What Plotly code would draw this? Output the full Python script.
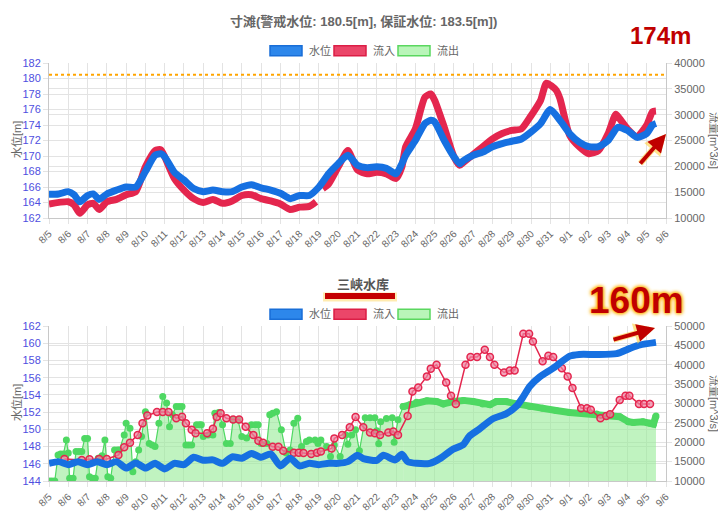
import plotly.graph_objects as go

# ---------------- data ----------------
day_labels = ["8/5","8/6","8/7","8/8","8/9","8/10","8/11","8/12","8/13","8/14","8/15","8/16",
              "8/17","8/18","8/19","8/20","8/21","8/22","8/23","8/24","8/25","8/26","8/27","8/28",
              "8/29","8/30","8/31","9/1","9/2","9/3","9/4","9/5","9/6"]
day_pos = list(range(len(day_labels)))

# 寸滩 water level [m]  (x in days since 8/5)
cuntan_level_t = [0,0.5,1,1.3,1.6,2,2.3,2.6,3,3.5,4,4.5,5,5.5,5.8,6,6.5,7,7.5,8,8.5,9,9.5,10,10.5,11,
                  11.5,12,12.5,13,13.5,14,14.5,15,15.5,16,16.5,17,17.5,18,18.3,18.5,19,19.5,19.8,20,
                  20.5,21,21.3,21.5,22,22.5,23,23.5,24,24.5,25,25.5,26,26.5,27,27.5,28,28.5,29,29.5,
                  30,30.5,31,31.3,31.48]
cuntan_level = [165.05,165.1,165.4,165.0,164.1,164.9,165.1,164.4,165.1,165.6,166.0,166.0,168.0,170.1,
                170.3,169.9,167.9,166.9,165.8,165.4,165.6,165.4,165.4,166.0,166.3,165.9,165.6,165.2,
                164.5,164.9,164.9,166.0,167.7,169.0,170.1,168.8,168.5,168.6,168.4,167.7,169.0,170.1,
                172.0,174.2,174.6,174.4,172.0,169.9,169.0,169.4,170.1,170.5,171.2,171.6,171.9,172.2,
                173.1,174.2,176.0,174.6,172.9,171.8,171.2,171.2,172.0,173.7,173.3,172.4,172.9,174.0,174.2]

# 寸滩 inflow [m^3/s]
cuntan_in_t = [0,1,1.3,1.6,2,2.3,2.6,3,3.5,4,4.5,5,5.5,5.8,6,6.5,7,7.5,8,8.5,9,9.5,10,10.5,11,11.5,
               12,12.5,13,13.5,13.85,14.0,14.2,14.5,15,15.5,16,16.5,17,17.5,18,18.3,18.5,19,19.5,19.8,
               20,20.5,21,21.3,21.5,22,22.5,23,23.5,24,24.5,25,25.5,25.8,26.3,26.5,27,27.5,28,28.5,29,
               29.4,29.6,30,30.5,31,31.3,31.48]
cuntan_in = [12700,13150,12550,10900,12550,12850,11650,13150,13600,14500,15100,19900,23050,23200,
             21850,17650,15400,13750,13000,13600,12850,13300,14350,14500,13750,13300,12700,11650,
             12100,12250,13150,None,15700,16600,19900,23050,19300,18550,18850,18550,17650,19900,
             23800,27250,33400,34000,32800,27550,21850,20200,20800,22300,23800,25300,26350,26950,
             27250,29800,32800,36100,34750,33100,26050,23800,22450,23050,26350,30100,29200,27250,
             25750,28000,30550,30700]

# 三峡水库 water level [m]
sanxia_level_t = [0,0.5,1,1.5,2,2.5,3,3.5,4,4.5,5,5.5,6,6.5,7,7.5,8,8.5,9,9.5,10,10.5,11,11.5,12,
                  12.5,13,13.5,14,14.5,15,15.5,16,16.3,17.0,17.35,17.95,18.3,18.6,19.06,19.75,20.27,
                  20.96,21.48,21.8,22.3,23.0,23.7,24.25,24.6,24.94,25.46,26.15,27.0,27.5,28.4,29.44,
                  30.13,30.65,31.48]
sanxia_level = [146.05,146.25,145.9,146.25,145.9,146.25,145.9,146.25,145.5,146.1,145.5,146.05,145.4,
                146.05,145.9,146.75,146.4,146.45,146.05,146.8,146.65,147.2,146.75,147.15,145.75,
                146.65,145.75,146.05,145.9,146.05,146.05,146.25,147.0,146.6,146.4,147.0,146.45,147.1,
                146.25,146.05,146.05,146.6,147.7,148.2,149.2,150.0,151.2,151.8,152.7,153.8,155.0,
                156.1,157.1,158.5,158.7,158.7,158.8,159.4,159.8,160.1]

# 三峡水库 inflow [m^3/s]
sanxia_in_t = [0.8,1.7,2.1,2.6,3.0,3.6,3.9,4.2,4.6,4.85,5.1,5.6,5.9,6.2,6.6,6.9,7.1,7.4,7.6,8.2,8.5,
               8.7,8.9,9.2,9.55,9.86,10.2,10.6,10.86,11.1,11.6,11.9,12.15,12.7,12.95,13.2,13.6,13.9,
               14.1,14.66,14.8,15.2,15.6,15.9,16.3,16.65,16.9,17.17,17.6,17.86,18.1,18.6,18.85,19.15,
               19.6,19.8,20.1,20.6,20.85,21.1,21.6,21.86,22.2,22.6,22.87,23.1,23.6,23.9,24.15,24.6,
               24.9,25.1,25.6,25.9,26.15,26.6,26.9,27.15,27.6,27.9,28.1,28.6,28.9,29.1,29.6,29.9,
               30.1,30.6,30.86,31.17]
sanxia_in = [15700,15400,15600,15700,15700,16700,18700,19900,21900,24900,26900,27800,27800,27800,
             26200,26600,24900,23200,22300,22300,23500,26500,27500,26200,25900,25900,24000,21900,
             20400,19900,18850,18850,17800,17300,17300,17200,17000,17300,17600,18400,21000,21900,
             23900,26500,23900,22500,22300,21900,22500,22800,21900,26800,33100,34100,37000,39000,
             40000,35400,32000,29900,40000,42000,42000,43900,42000,40000,38000,38500,38500,48000,
             48000,46000,40900,42300,42000,39100,37000,34000,28800,28800,28400,26200,26800,27200,
             30900,32000,32000,29900,29900,29900]

# 三峡水库 outflow [m^3/s] (fluctuating part)
sanxia_out1_t = [0,0.15,0.3,0.47,0.6,0.75,0.9,1.0,1.07,1.25,1.4,1.55,1.7,1.85,2.0,2.1,2.25,2.4,2.55,
                 2.75,2.9,3.05,3.2,3.4,3.55,3.65,3.9,4.0,4.2,4.35,4.5,4.65,4.8,5.0,5.2,5.35,5.5,5.7,
                 5.9,6.1,6.25,6.4,6.6,6.75,6.9,7.1,7.25,7.4,7.65,7.8,7.9,8.0,8.25,8.5,8.6,8.8,9.0,
                 9.2,9.4,9.55,9.8,10.0,10.25,10.5,10.7,10.85,11.0,11.3,11.45,11.6,11.8,12.05,12.3,
                 12.5,12.7,12.9,13.1,13.35,13.5,13.8,13.95,14.1,14.4,14.6,14.8,15.1,15.4,15.5,15.7,
                 15.9,16.1,16.4,16.65,16.9,17.0,17.1,17.2,17.5,17.8,17.9,18.1,18.37]
sanxia_out1 = [10000,10000,10000,16700,17000,17000,20600,17200,10700,10700,17600,17600,17600,21000,
               21000,11100,10700,10700,15900,16500,20600,11100,10700,18000,18000,18000,21900,24900,
               23600,12400,15000,18000,21500,27900,19700,19300,18900,24900,31800,30100,24000,27100,
               29200,29200,29200,19300,19300,19300,24500,24500,24500,21500,21900,21900,27500,27700,
               24500,19700,19700,25800,25800,21500,21100,24500,24500,24500,19700,19700,27100,27500,
               27900,23200,17200,18000,24900,26200,18900,20200,20600,20600,19700,20600,18900,16300,
               19300,16300,21900,19500,21900,23200,17800,26300,26300,26300,23000,19600,25300,26100,
               26300,20000,25800,29200]
# 三峡水库 outflow [m^3/s] (steady part)
sanxia_out2_t = [18.37,18.7,19.06,19.6,20.1,20.45,20.96,21.5,22.0,22.5,22.87,23.2,23.7,24.25,24.94,
                 25.6,26.3,27.0,27.7,28.4,29.1,29.6,30.05,30.3,30.8,31.17,31.35,31.48]
sanxia_out2 = [29200,29700,30300,30700,30500,29900,30500,30800,30500,29900,29700,30500,30500,29900,
               29200,28800,28200,27700,27500,27300,27100,26600,25300,25100,25300,24900,24700,26800]

warning_level = 180.5
legend_names = ["水位", "流入", "流出"]

# ---------------- style ----------------
FONT = "Liberation Sans, Arial, Noto Sans CJK JP, sans-serif"
BLUE = "rgb(22,112,225)"
RED = "rgb(228,38,78)"
GREEN = "rgb(78,216,98)"
GREEN_FILL = "rgba(150,235,150,0.6)"
GRID = "#e3e3e3"

OFF = 8                      # page body margin
W, H = 718, 506
L, T = 49 - OFF, 63 - OFF
R = W - (666 - OFF)
B = H - (481 - OFF)
PW, PH = W - L - R, H - T - B


def px(xp):
    return (xp - OFF - L) / PW


def py(yp):
    return (H - B - (yp - OFF)) / PH


top_dom = [py(218), 1.0]
bot_dom = [0.0, py(326)]

fig = go.Figure()

# top: flows on y (right), level on y2 (left, drawn on top)
fig.add_trace(go.Scatter(x=cuntan_in_t, y=cuntan_in, xaxis="x", yaxis="y", mode="lines",
                         line=dict(color=RED, width=7, shape="spline", smoothing=0.6),
                         connectgaps=False, showlegend=False, hoverinfo="skip"))
fig.add_trace(go.Scatter(x=cuntan_level_t, y=cuntan_level, xaxis="x", yaxis="y2", mode="lines",
                         line=dict(color=BLUE, width=7, shape="spline", smoothing=0.6),
                         showlegend=False, hoverinfo="skip"))

# bottom: flows on y3 (right), level on y4 (left)
fig.add_trace(go.Scatter(x=sanxia_out1_t, y=sanxia_out1, xaxis="x2", yaxis="y3", mode="lines+markers",
                         line=dict(color=GREEN, width=1.2), fill="tozeroy", fillcolor=GREEN_FILL,
                         marker=dict(size=7, color=GREEN), showlegend=False, hoverinfo="skip"))
fig.add_trace(go.Scatter(x=sanxia_out2_t, y=sanxia_out2, xaxis="x2", yaxis="y3", mode="lines+markers",
                         line=dict(color=GREEN, width=7), fill="tozeroy", fillcolor=GREEN_FILL,
                         marker=dict(size=7, color=GREEN), showlegend=False, hoverinfo="skip"))
fig.add_trace(go.Scatter(x=sanxia_in_t, y=sanxia_in, xaxis="x2", yaxis="y3", mode="lines+markers",
                         line=dict(color=RED, width=1.5),
                         marker=dict(size=7, color="rgba(240,130,160,0.7)", line=dict(color=RED, width=1.5)),
                         showlegend=False, hoverinfo="skip"))
fig.add_trace(go.Scatter(x=sanxia_level_t, y=sanxia_level, xaxis="x2", yaxis="y4", mode="lines",
                         line=dict(color=BLUE, width=7, shape="spline", smoothing=0.6),
                         showlegend=False, hoverinfo="skip"))

xcommon = dict(range=[0, 32], tickmode="array", tickvals=day_pos, ticktext=day_labels, tickangle=-45,
               tickfont=dict(size=10, color="#666", family=FONT), showgrid=True, gridcolor=GRID,
               showline=True, linecolor="#c8c8c8", ticks="outside", ticklen=5, tickcolor=GRID,
               zeroline=False, automargin=False, fixedrange=True)
flowax = dict(side="right", tickformat="d", tickfont=dict(size=11, color="#666", family=FONT),
              showgrid=True, gridcolor=GRID, showline=True, linecolor="#c8c8c8", ticks="outside",
              ticklen=5, tickcolor=GRID, zeroline=False, automargin=False)
lvlax = dict(side="left", tickfont=dict(size=11, color="#4f4fe0", family=FONT), showgrid=True,
             gridcolor=GRID, showline=True, linecolor="#c8c8c8", ticks="outside", ticklen=5,
             tickcolor=GRID, zeroline=False, automargin=False)

fig.update_layout(
    width=W, height=H, margin=dict(l=L, r=R, t=T, b=B),
    paper_bgcolor="white", plot_bgcolor="white", showlegend=False,
    font=dict(family=FONT, color="#666"),
    xaxis=dict(domain=[0, 1], anchor="y", **xcommon),
    yaxis=dict(domain=top_dom, anchor="x", range=[10000, 40000], dtick=5000, **flowax),
    yaxis2=dict(anchor="x", overlaying="y", range=[162, 182], dtick=2, **lvlax),
    xaxis2=dict(domain=[0, 1], anchor="y3", **xcommon),
    yaxis3=dict(domain=bot_dom, anchor="x2", range=[10000, 50000], dtick=5000, **flowax),
    yaxis4=dict(anchor="x2", overlaying="y3", range=[144, 162], dtick=2, **lvlax),
)

shapes = []
ann = []


def text(t, x, y, size, color, angle=0, **kw):
    ann.append(dict(text=t, xref="paper", yref="paper", x=px(x), y=py(y), xanchor=kw.pop("xanchor", "center"),
                    yanchor="middle", textangle=angle, showarrow=False,
                    font=dict(size=size, color=color, family=FONT, **kw)))


# warning line
shapes.append(dict(type="line", xref="x", yref="y2", x0=0, x1=32, y0=warning_level, y1=warning_level,
                   line=dict(color="#ffa500", width=2, dash="dot")))

# titles
text("<b>寸滩(警戒水位: 180.5[m], 保証水位: 183.5[m])</b>", 363, 21, 13, "#666")
text("<b>三峡水库</b>", 363, 284, 13, "#555")
# underline of bottom title
shapes.append(dict(type="line", xref="paper", yref="paper", x0=px(323), x1=px(397), y0=py(297), y1=py(297),
                   line=dict(color="rgba(255,210,80,0.45)", width=9)))
shapes.append(dict(type="line", xref="paper", yref="paper", x0=px(325), x1=px(395), y0=py(296), y1=py(296),
                   line=dict(color="#c40000", width=6)))

# custom legends
legend_fill = [("rgb(45,135,235)", "rgb(25,110,215)"), ("rgb(235,70,105)", "rgb(220,30,70)"),
               ("rgb(185,245,185)", "rgb(90,215,95)")]
box_x = [270, 334, 398]
for ycen in (50.7, 314.3):
    for i, name in enumerate(legend_names):
        fc, lc = legend_fill[i]
        shapes.append(dict(type="rect", xref="paper", yref="paper", x0=px(box_x[i]), x1=px(box_x[i] + 32),
                           y0=py(ycen + 5), y1=py(ycen - 5), fillcolor=fc, line=dict(color=lc, width=1.5)))
        text(name, box_x[i] + 37, ycen, 11, "#666", xanchor="left")

# axis titles
for ycen in (140, 403):
    text("水位[m]", 17, ycen, 11, "#666", angle=-90)
    text("流量[m^3/s]", 714, ycen, 11, "#666", angle=90)

# callouts
text("<b>174m</b>", 660, 35, 24, "#c00000")
text("<b>160m</b>", 636, 300, 37, "#c00000",
     shadow="0 0 4px #ffb000, 0 0 4px #ffb000, 0 0 3px #ffcc33")
for (hx, hy, tx, ty) in [(666, 134, 639, 165), (655, 328, 612, 340)]:
    ann.append(dict(text="", xref="paper", yref="paper", x=px(hx), y=py(hy), ax=tx - hx, ay=ty - hy,
                    showarrow=True, arrowhead=2, arrowsize=0.7, arrowwidth=6,
                    arrowcolor="rgba(255,215,90,0.7)"))
    ann.append(dict(text="", xref="paper", yref="paper", x=px(hx), y=py(hy), ax=tx - hx, ay=ty - hy,
                    showarrow=True, arrowhead=2, arrowsize=0.9, arrowwidth=4, arrowcolor="#c00000"))

fig.update_layout(shapes=shapes, annotations=ann)
fig.write_html("out.html")
